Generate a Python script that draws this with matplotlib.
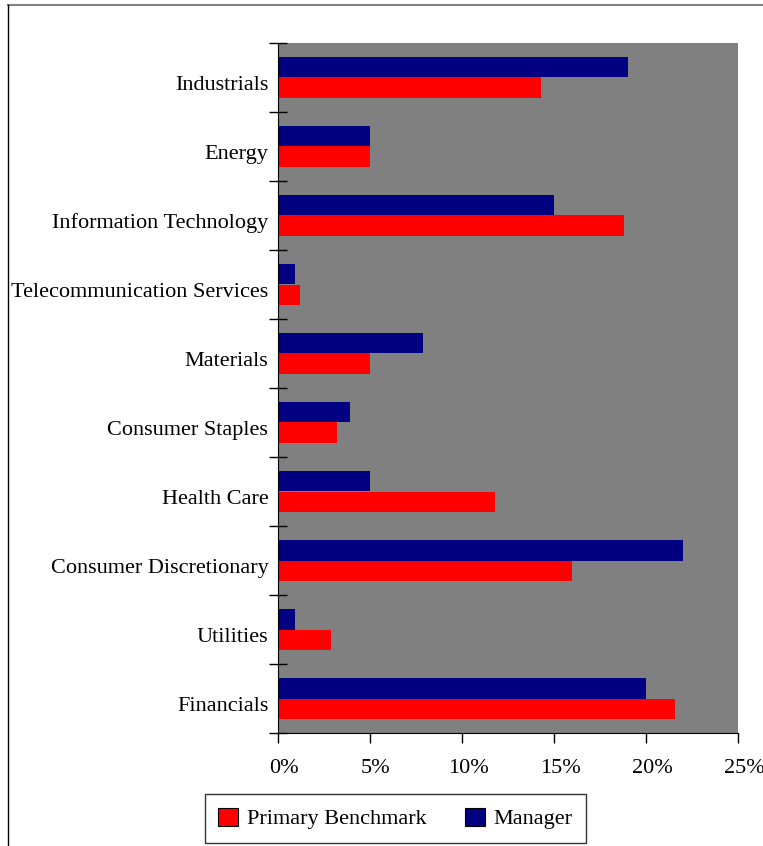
import matplotlib.pyplot as plt
import matplotlib.transforms as mtransforms
import numpy as np
from matplotlib.lines import Line2D

plt.rcParams['font.family'] = ['Liberation Serif', 'DejaVu Serif']

# Setores (de cima para baixo)
setores = ['Industrials', 'Energy', 'Information Technology', 'Telecommunication Services',
           'Materials', 'Consumer Staples', 'Health Care', 'Consumer Discretionary',
           'Utilities', 'Financials']
manager = [19.0, 5.0, 15.0, 0.9, 7.9, 3.9, 5.0, 22.0, 0.9, 20.0]
benchmark = [14.3, 5.0, 18.8, 1.2, 5.0, 3.2, 11.8, 16.0, 2.9, 21.6]
xticks = [0, 5, 10, 15, 20, 25]

fig = plt.figure(figsize=(7.63, 8.46), dpi=100)
ax = fig.add_axes([278 / 763, 113 / 846, 460 / 763, 690 / 846])
ax.set_facecolor('#808080')

y = np.arange(len(setores))
h = 0.3
ax.barh(y - h / 2, manager, height=h, color='#000080', label='Manager')
ax.barh(y + h / 2, benchmark, height=h, color='#ff0000', label='Primary Benchmark')

ax.set_xlim(0, 25)
ax.set_ylim(len(setores) - 0.5, -0.5)

ax.set_yticks(y)
ax.set_yticklabels(setores, fontsize=16)
ax.tick_params(axis='y', which='major', length=0, pad=7)
ax.set_yticks(np.arange(-0.5, len(setores)), minor=True)
ax.tick_params(axis='y', which='minor', direction='inout', length=13, width=1)

ax.set_xticks(xticks)
ax.set_xticklabels([f'{v}%' for v in xticks], fontsize=16)
ax.tick_params(axis='x', direction='out', length=7, width=1, pad=12)

# pequenos deslocamentos dos rótulos
desl_y = mtransforms.ScaledTranslation(0, -5 / 100, fig.dpi_scale_trans)
for t in ax.get_yticklabels():
    t.set_transform(t.get_transform() + desl_y)
desl_x = mtransforms.ScaledTranslation(6 / 100, 0, fig.dpi_scale_trans)
for t in ax.get_xticklabels():
    t.set_transform(t.get_transform() + desl_x)

for s in ['top', 'right']:
    ax.spines[s].set_visible(False)

# borda da figura
fig.add_artist(Line2D([8 / 763, 1], [1 - 5 / 846, 1 - 5 / 846], color='#808080', lw=1.5))
fig.add_artist(Line2D([8 / 763, 8 / 763], [0, 1 - 5 / 846], color='black', lw=1))

handles, labels = ax.get_legend_handles_labels()
leg = fig.legend(handles[::-1], labels[::-1], loc='center', bbox_to_anchor=(395.5 / 763, 27.5 / 846),
                 ncol=2, fontsize=16, frameon=True, fancybox=False, edgecolor='black',
                 handlelength=0.9, handleheight=0.9, handletextpad=0.4, columnspacing=1.7,
                 borderpad=0.6)
leg.get_frame().set_linewidth(1)
for p in leg.legend_handles:
    p.set_edgecolor('black')
    p.set_linewidth(0.8)

plt.savefig('out.png', dpi=100)
